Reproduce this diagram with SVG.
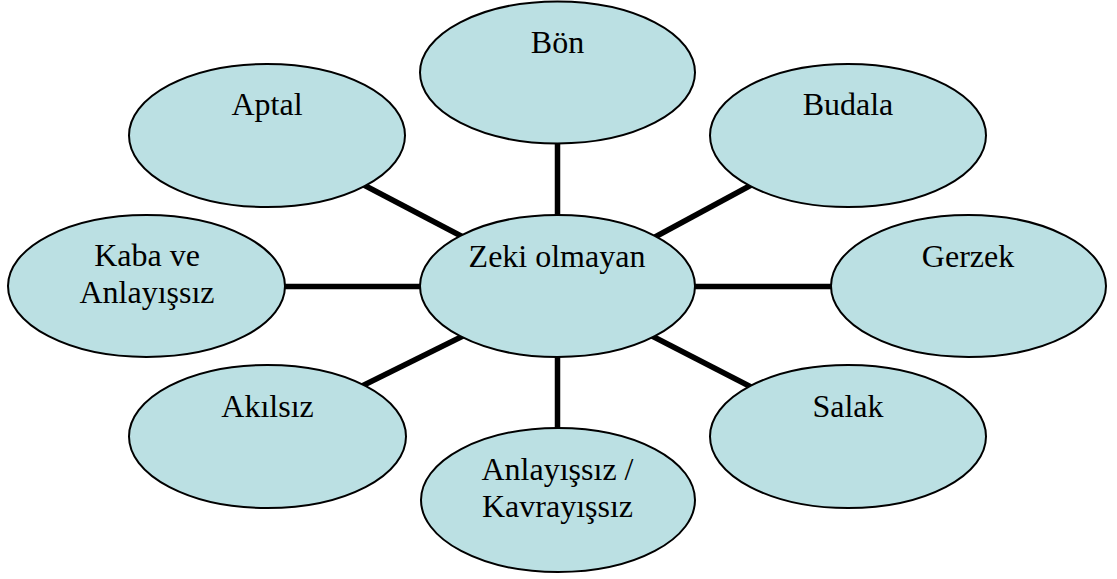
<svg xmlns="http://www.w3.org/2000/svg" width="1117" height="579" viewBox="0 0 1117 579">
<style>
.n ellipse{fill:#BBE0E3;stroke:#000;stroke-width:2}
.n text{font-size:32px;fill:#000;text-anchor:middle}
#connectors line{stroke:#000;stroke-width:5.5}
</style>
<rect width="1117" height="579" fill="#fff"/>
<g id="connectors">
<line x1="557.5" y1="140" x2="557.5" y2="220"/>
<line x1="557.5" y1="352" x2="557.5" y2="432"/>
<line x1="280" y1="286.5" x2="425" y2="286.5"/>
<line x1="690" y1="286.5" x2="836" y2="286.5"/>
<line x1="360" y1="183" x2="463" y2="237"/>
<line x1="655" y1="237" x2="755" y2="183"/>
<line x1="463" y1="336" x2="362" y2="386"/>
<line x1="652" y1="336" x2="755" y2="389"/>
</g>
<g font-family="Liberation Serif, Times New Roman, serif">
<g id="bon" class="n"><ellipse cx="557.5" cy="72.5" rx="137.5" ry="71"/><text x="557.5" y="53">Bön</text></g>
<g id="aptal" class="n"><ellipse cx="267" cy="135.5" rx="138" ry="71.5"/><text x="267" y="115">Aptal</text></g>
<g id="budala" class="n"><ellipse cx="848" cy="135.5" rx="138" ry="71.5"/><text x="848" y="115">Budala</text></g>
<g id="kaba" class="n"><ellipse cx="146.5" cy="286" rx="138.5" ry="71"/><text x="147" y="266">Kaba ve</text><text x="147" y="303">Anlayışsız</text></g>
<g id="zeki" class="n"><ellipse cx="557.5" cy="286" rx="137.5" ry="71"/><text x="557" y="267">Zeki olmayan</text></g>
<g id="gerzek" class="n"><ellipse cx="968.5" cy="286" rx="137.5" ry="71"/><text x="968" y="267">Gerzek</text></g>
<g id="akilsiz" class="n"><ellipse cx="267.5" cy="436.5" rx="138.5" ry="71.5"/><text x="267.5" y="417">Akılsız</text></g>
<g id="salak" class="n"><ellipse cx="848" cy="436.5" rx="138" ry="71.5"/><text x="848" y="417">Salak</text></g>
<g id="anlayissiz" class="n"><ellipse cx="558" cy="500" rx="137" ry="72"/><text x="557.5" y="480">Anlayışsız /</text><text x="557.5" y="517">Kavrayışsız</text></g>
</g>
</svg>
